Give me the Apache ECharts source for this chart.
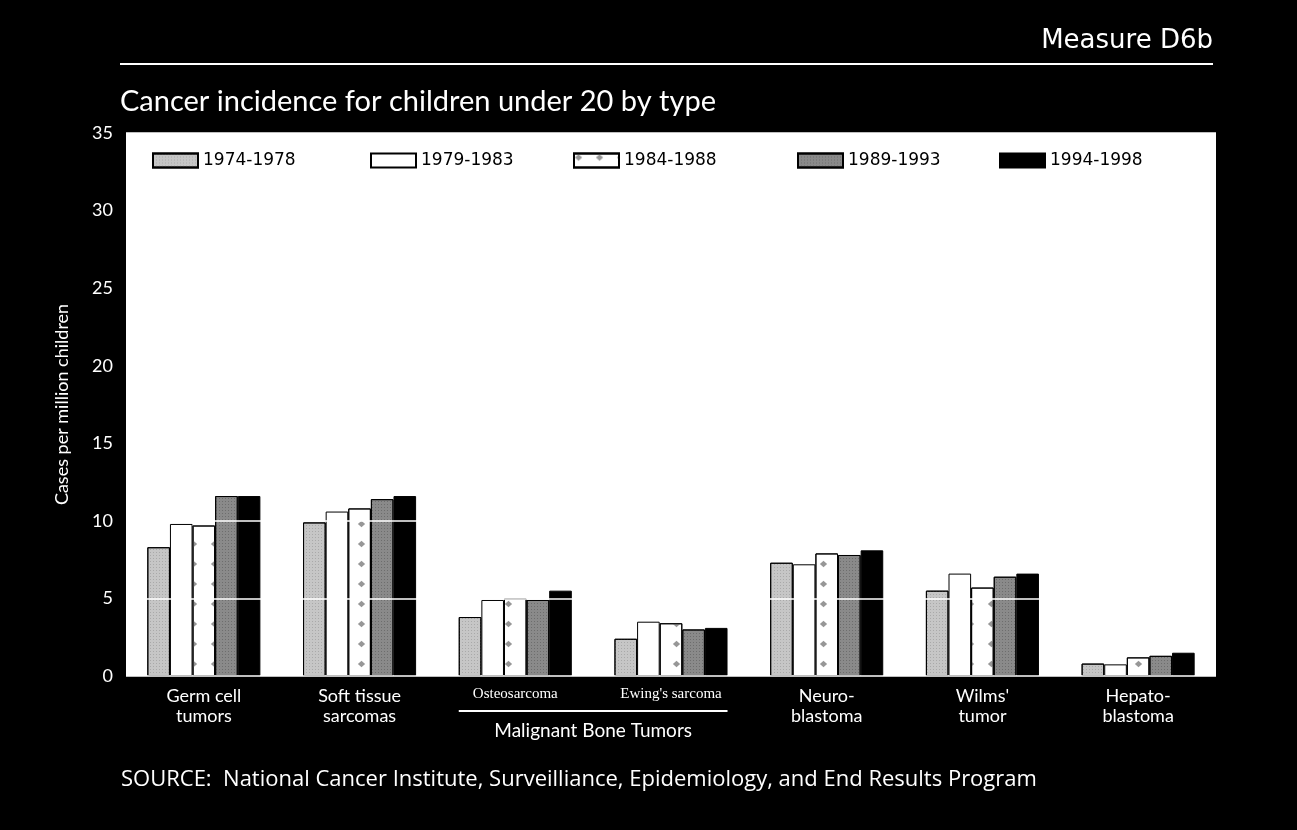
<!DOCTYPE html>
<html>
<head>
<meta charset="utf-8">
<script src="https://cdn.jsdelivr.net/npm/echarts@6/dist/echarts.min.js"></script>
<style>
html,body{margin:0;padding:0;background:#000;}
#chart{width:1297px;height:830px;}
</style>
</head>
<body>
<div id="chart"></div>
<script>
const categories = ['Germ cell\ntumors', 'Soft tissue\nsarcomas', 'Osteosarcoma', "Ewing's sarcoma", 'Neuro-\nblastoma', "Wilms'\ntumor", 'Hepato-\nblastoma'];
const boneSubtypes = ['Osteosarcoma', "Ewing's sarcoma"];
const seriesNames = ['1974-1978', '1979-1983', '1984-1988', '1989-1993', '1994-1998'];
const v1974 = [8.3, 9.9, 3.8, 2.4, 7.3, 5.5, 0.8];
const v1979 = [9.8, 10.6, 4.9, 3.5, 7.2, 6.6, 0.75];
const v1984 = [9.7, 10.8, 5.0, 3.4, 7.9, 5.7, 1.2];
const v1989 = [11.6, 11.4, 4.9, 3.0, 7.8, 6.4, 1.3];
const v1994 = [11.6, 11.6, 5.5, 3.1, 8.1, 6.6, 1.5];
const yTicks = [0, 5, 10, 15, 20, 25, 30, 35];

const allValues = [v1974, v1979, v1984, v1989, v1994];
const fills = ['#c6c6c6', '#ffffff', '#ffffff', '#8a8a8a', '#000000'];
const decals = [
  {symbol: 'rect', symbolSize: 1, dashArrayX: [1, 2], dashArrayY: [1, 2], color: 'rgba(150,150,150,0.6)'},
  null,
  {symbol: 'diamond', symbolSize: 0.8, dashArrayX: [9, 12], dashArrayY: [8, 12], color: 'rgba(140,140,140,0.9)'},
  {symbol: 'rect', symbolSize: 1, dashArrayX: [1, 2], dashArrayY: [1, 2], color: 'rgba(90,90,90,0.6)'},
  null
];
const legendLefts = [152, 370, 573, 797, 999];

const chart = echarts.init(document.getElementById('chart'));
const series = seriesNames.map((n, i) => {
  const style = {color: fills[i], borderColor: '#000', borderWidth: 1};
  if (decals[i]) style.decal = decals[i];
  return {
    name: n, type: 'bar', data: allValues[i],
    barGap: '0%', barCategoryGap: '27.4%',
    itemStyle: style, emphasis: {disabled: true}
  };
});
const legends = seriesNames.map((n, i) => ({
  data: [n], left: legendLefts[i], top: 152, itemWidth: 45, itemHeight: 14, itemGap: 10,
  icon: 'rect', selectedMode: false, padding: 0,
  textStyle: {color: '#000', fontFamily: 'DejaVu Sans', fontSize: 17}
}));

const option = {
  backgroundColor: '#000',
  animation: false,
  title: [
    {text: 'Measure D6b', right: 84, top: 28, padding: 0, textStyle: {color: '#fff', fontFamily: 'DejaVu Sans', fontSize: 26, fontWeight: 'normal'}},
    {text: 'Cancer incidence for children under 20 by type', left: 120, top: 87, padding: 0, textStyle: {color: '#fff', fontFamily: 'Lato', fontSize: 29, fontWeight: 'normal'}},
    {text: 'SOURCE:  National Cancer Institute, Surveilliance, Epidemiology, and End Results Program', left: 121, top: 769, padding: 0, textStyle: {color: '#fff', fontFamily: 'Open Sans', fontSize: 22, fontWeight: 'normal'}}
  ],
  legend: legends,
  grid: {left: 126, right: 81, top: 133, bottom: 154, show: true, backgroundColor: '#fff', borderWidth: 0},
  xAxis: {
    type: 'category', data: categories,
    axisLine: {show: false}, axisTick: {show: false},
    axisLabel: {
      margin: 10, interval: 0,
      formatter: function (v) {
        if (boneSubtypes.indexOf(v) >= 0) return '{s|' + v + '}';
        return v.split('\n').map(l => '{n|' + l + '}').join('\n');
      },
      rich: {
        n: {color: '#fff', fontFamily: 'Lato', fontSize: 18, lineHeight: 20},
        s: {color: '#fff', fontFamily: 'Liberation Serif', fontSize: 15, lineHeight: 16}
      }
    }
  },
  yAxis: {
    type: 'value', min: 0, max: 35, interval: 5, z: 5,
    name: 'Cases per million children', nameLocation: 'middle', nameGap: 55,
    nameTextStyle: {color: '#fff', fontFamily: 'Lato', fontSize: 18},
    axisLine: {show: false}, axisTick: {show: false},
    axisLabel: {color: '#fff', fontFamily: 'Lato', fontSize: 18, margin: 13,
      formatter: v => (yTicks.indexOf(v) >= 0 ? String(v) : '')},
    splitLine: {show: true, lineStyle: {color: '#fff', width: 1.5}}
  },
  series: series
};
chart.setOption(option);

// Bracket under the malignant bone tumor subtypes, positioned from the axis scale
const c2 = chart.convertToPixel({xAxisIndex: 0}, boneSubtypes[0]);
const c3 = chart.convertToPixel({xAxisIndex: 0}, boneSubtypes[1]);
const band = chart.convertToPixel({xAxisIndex: 0}, categories[1]) - chart.convertToPixel({xAxisIndex: 0}, categories[0]);
const halfGroup = band * (1 - 0.274) / 2;
const baseY = chart.convertToPixel({yAxisIndex: 0}, 0);
chart.setOption({
  graphic: [
    {type: 'line', shape: {x1: 120, y1: 64, x2: 1213, y2: 64}, style: {stroke: '#fff', lineWidth: 2}},
    {type: 'line', shape: {x1: c2 - halfGroup, y1: baseY + 35, x2: c3 + halfGroup, y2: baseY + 35}, style: {stroke: '#fff', lineWidth: 2}},
    {type: 'text', x: (c2 + c3) / 2, y: baseY + 55, style: {text: 'Malignant Bone Tumors', fill: '#fff', font: '19px Lato', textAlign: 'center', textVerticalAlign: 'middle'}}
  ]
});
</script>
</body>
</html>
